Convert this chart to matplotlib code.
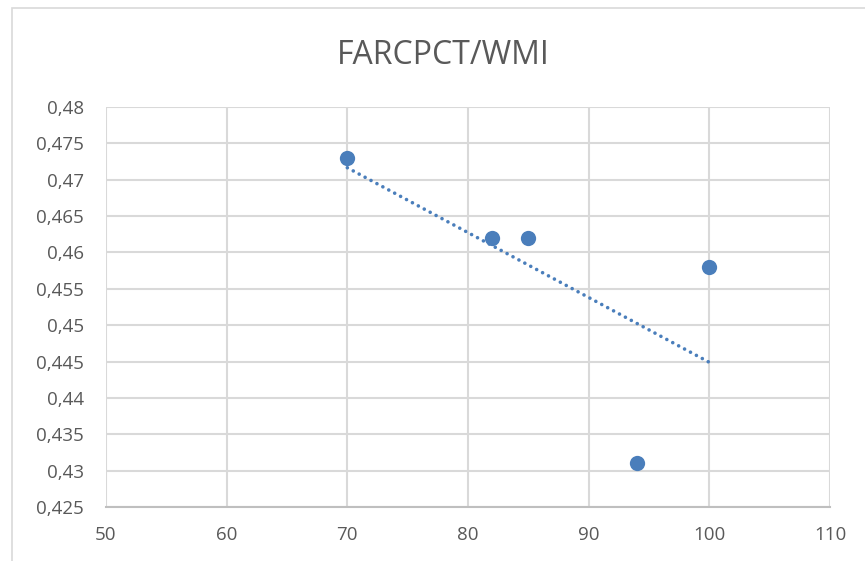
import numpy as np
import matplotlib
matplotlib.use("Agg")
import matplotlib.pyplot as plt
from matplotlib.ticker import FuncFormatter, MultipleLocator
from matplotlib.patches import Rectangle

plt.rcParams['font.family'] = ['Open Sans', 'DejaVu Sans']

title = "FARCPCT/WMI"
wmi = [70, 82, 85, 94, 100]
farcpct = [0.473, 0.462, 0.462, 0.431, 0.458]

W, H = 865, 561
fig = plt.figure(figsize=(W / 100, H / 100), dpi=100)

# chart-area border
fig.patches.append(Rectangle((12 / W, -0.1), 1.2, 1 - 8 / H + 0.1,
                             transform=fig.transFigure, fill=False,
                             edgecolor='#d9d9d9', linewidth=1.2))

ax = fig.add_axes([106 / W, 1 - 507 / H, (830 - 106) / W, (507 - 107) / H])

blue = '#4A7EBB'
ax.scatter(wmi, farcpct, s=11 ** 2, color=blue, zorder=3, linewidths=0)

# linear trend line
k, b = np.polyfit(wmi, farcpct, 1)
xt = np.array([min(wmi), max(wmi)])
ax.plot(xt, k * xt + b, color=blue, linewidth=2.6, linestyle=(0, (0.01, 1.85)),
        dash_capstyle='round', zorder=2)

ax.set_xlim(50, 110)
ax.set_ylim(0.425, 0.48)
ax.xaxis.set_major_locator(MultipleLocator(10))
ax.yaxis.set_major_locator(MultipleLocator(0.005))


def comma(v, pos):
    s = f"{v:.3f}".rstrip('0').rstrip('.')
    return s.replace('.', ',')


ax.yaxis.set_major_formatter(FuncFormatter(comma))
ax.xaxis.set_major_formatter(FuncFormatter(lambda v, p: f"{v:.0f}"))

ax.grid(True, color='#d9d9d9', linewidth=1.5)
ax.set_axisbelow(True)
for side in ['top', 'right', 'left']:
    ax.spines[side].set_visible(False)
ax.spines['bottom'].set_color('#bfbfbf')
ax.spines['bottom'].set_linewidth(1.5)
ax.tick_params(length=0, labelsize=13.5, colors='#595959')
ax.tick_params(axis='y', pad=16)
ax.tick_params(axis='x', pad=14)

fig.text(443 / W, 1 - 56 / H, title, ha='center', va='center',
         fontsize=23, color='#595959')

fig.savefig("out.png", dpi=100)
